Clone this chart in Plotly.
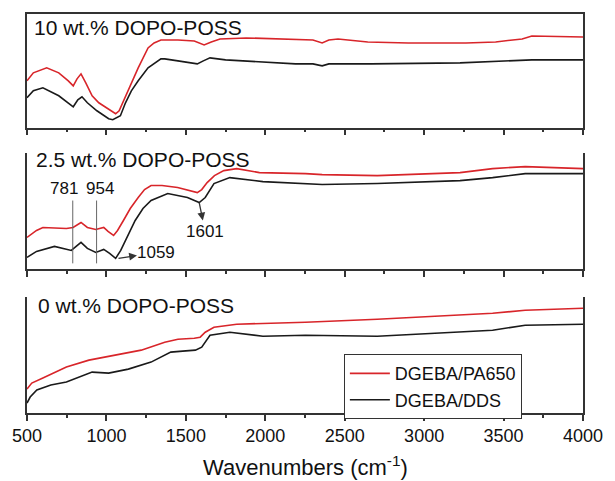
import plotly.graph_objects as go

# ---- data (transmittance, arbitrary units) ----
# Panel 1: 10 wt.% DOPO-POSS
p1_red_x = [500, 540, 624, 700, 760, 791, 815, 840, 870, 910, 952, 1000, 1040, 1058, 1080, 1107, 1150, 1200, 1262, 1300, 1343, 1450, 1553, 1615, 1660, 1715, 1880, 2190, 2300, 2358, 2400, 2458, 2645, 2900, 3263, 3450, 3617, 3678, 4000]
p1_red_y = [47, 55, 60, 55, 47, 42, 49, 54, 45, 32, 25, 20, 15, 14, 17, 27, 42, 60, 80, 85, 88, 88, 87, 83, 86, 89, 90, 89, 88, 85, 88, 89, 86, 85, 85, 86, 89, 92, 91]
p1_blk_x = [500, 540, 600, 700, 791, 820, 846, 880, 940, 1014, 1040, 1088, 1120, 1157, 1200, 1262, 1343, 1367, 1450, 1572, 1610, 1652, 1750, 1880, 2190, 2300, 2358, 2400, 2667, 3226, 3678, 4000]
p1_blk_y = [30, 37, 40, 32, 21, 28, 31, 25, 17, 9, 8, 12, 25, 37, 47, 60, 69, 69, 67, 64, 67, 70, 68, 67, 64, 64, 62, 64, 64, 65, 68, 68]

# Panel 2: 2.5 wt.% DOPO-POSS
p2_red_x = [500, 560, 600, 748, 790, 840, 880, 933, 983, 1010, 1045, 1070, 1107, 1150, 1200, 1240, 1281, 1350, 1448, 1520, 1572, 1600, 1634, 1680, 1739, 1820, 1963, 2253, 2358, 2705, 3226, 3431, 3636, 4000]
p2_red_y = [32, 39, 42, 41, 42, 47, 42, 40, 42, 38, 34, 39, 49, 61, 72, 80, 84, 84, 82, 79, 77, 80, 87, 94, 99, 101, 97, 96, 95, 94, 97, 101, 103, 101]
p2_blk_x = [500, 560, 673, 779, 840, 880, 933, 983, 1020, 1058, 1090, 1120, 1181, 1230, 1281, 1386, 1510, 1584, 1622, 1677, 1777, 1985, 2253, 2358, 2705, 3226, 3431, 3636, 4000]
p2_blk_y = [12, 18, 23, 19, 27, 21, 17, 20, 16, 11, 19, 29, 49, 61, 69, 76, 72, 67, 72, 86, 92, 88, 86, 85, 86, 89, 92, 96, 96]

# Panel 3: 0 wt.% DOPO-POSS
p3_red_x = [500, 530, 600, 748, 890, 1058, 1219, 1367, 1450, 1553, 1590, 1622, 1677, 1820, 2049, 2253, 2705, 3431, 3636, 4000]
p3_red_y = [24, 30, 35, 46, 53, 58, 63, 71, 74, 75, 76, 81, 86, 89, 90, 91, 94, 100, 103, 105]
p3_blk_x = [500, 520, 562, 650, 748, 910, 1014, 1138, 1281, 1405, 1480, 1560, 1600, 1652, 1777, 1985, 2253, 2705, 3431, 3636, 4000]
p3_blk_y = [10, 16, 23, 28, 31, 41, 40, 44, 51, 61, 62, 63, 66, 78, 81, 77, 78, 77, 83, 88, 89]

panel_titles = ["10 wt.% DOPO-POSS", "2.5 wt.% DOPO-POSS", "0 wt.% DOPO-POSS"]
series_names = ["DGEBA/PA650", "DGEBA/DDS"]
x_ticks = [500, 1000, 1500, 2000, 2500, 3000, 3500, 4000]
peak_lines = [788, 938]
peak_labels = ["781", "954"]

RED = "#d8252a"
BLK = "#1a1a1a"
AX = "#333333"
FONT = "Liberation Sans, Arial, sans-serif"

fig = go.Figure()
panels = [(p1_red_x, p1_red_y, p1_blk_x, p1_blk_y),
          (p2_red_x, p2_red_y, p2_blk_x, p2_blk_y),
          (p3_red_x, p3_red_y, p3_blk_x, p3_blk_y)]
for i, (rx, ry, bx, by) in enumerate(panels):
    xa = "x" if i == 0 else f"x{i+1}"
    ya = "y" if i == 0 else f"y{i+1}"
    fig.add_trace(go.Scatter(x=rx, y=ry, mode="lines", line=dict(color=RED, width=1.6),
                             name=series_names[0], showlegend=(i == 2), xaxis=xa, yaxis=ya))
    fig.add_trace(go.Scatter(x=bx, y=by, mode="lines", line=dict(color=BLK, width=1.6),
                             name=series_names[1], showlegend=(i == 2), xaxis=xa, yaxis=ya))

domains = [[0.715, 1.0], [0.36, 0.6525], [0.0, 0.29]]
yranges = [[0, 114], [0, 117], [0, 116]]
for i in range(3):
    sfx = "" if i == 0 else str(i + 1)
    fig.update_layout(**{
        f"xaxis{sfx}": dict(range=[500, 4000], anchor=f"y{sfx}", domain=[0, 1],
                            showline=True, linecolor=AX, linewidth=1.5, mirror=(i == 0),
                            ticks="outside", ticklen=6, tickwidth=1.5, tickcolor=AX,
                            tickvals=x_ticks, showticklabels=(i == 2), showgrid=False, zeroline=False,
                            minor=dict(ticks="outside", ticklen=3, tickwidth=1.5, tickcolor=AX,
                                       tick0=750, dtick=500, showgrid=False),
                            tickfont=dict(size=18, color="#111", family=FONT),
                            matches=None if i == 0 else "x"),
        f"yaxis{sfx}": dict(range=yranges[i], anchor=f"x{sfx}", domain=domains[i],
                            showline=True, linecolor=AX, linewidth=1.5, mirror=True,
                            showticklabels=False, ticks="", showgrid=False, zeroline=False),
    })

# panel titles
title_pos = [(32, 26.5), (34, 159), (36, 305.5)]
for t, (px, py) in zip(panel_titles, title_pos):
    fig.add_annotation(text=t, xref="paper", yref="paper", x=(px - 27) / 565, y=(413 - py) / 400,
                       xanchor="left", yanchor="middle", showarrow=False,
                       font=dict(size=21, color="#111", family=FONT))

# peak marker lines in panel 2
for xv, lab, lx in zip(peak_lines, peak_labels, [735, 958]):
    fig.add_shape(type="line", xref="x2", yref="y2", x0=xv, x1=xv, y0=6, y1=69,
                  line=dict(color="#666", width=1))
    fig.add_annotation(text=lab, xref="x2", yref="y2", x=lx, y=81, showarrow=False,
                       font=dict(size=17, color="#111", family=FONT))

# 1059: arrow from the curve minimum, head pointing at the label
fig.add_annotation(text="1059", xref="x2", yref="y2", x=1076, y=11, ax=1315, ay=17,
                   axref="x2", ayref="y2", showarrow=True, arrowside="start",
                   arrowhead=2, startarrowhead=2, startarrowsize=1.2,
                   arrowwidth=1.3, arrowcolor="#333", borderpad=0,
                   font=dict(size=17, color="#111", family=FONT))
# 1601: arrow from the shoulder, head pointing at the label
fig.add_annotation(text="1601", xref="x2", yref="y2", x=1584, y=67, ax=1621, ay=38,
                   axref="x2", ayref="y2", showarrow=True, arrowside="start",
                   arrowhead=2, startarrowhead=2, startarrowsize=1.2,
                   arrowwidth=1.3, arrowcolor="#333", borderpad=1,
                   font=dict(size=17, color="#111", family=FONT))

# x-axis title
fig.add_annotation(text="Wavenumbers (cm<sup>-1</sup>)", xref="paper", yref="paper",
                   x=(310 - 27) / 565, y=(413 - 466) / 400, xanchor="center", yanchor="middle",
                   showarrow=False, font=dict(size=22, color="#111", family=FONT))

fig.update_layout(
    width=615, height=481,
    margin=dict(l=27, r=23, t=13, b=68),
    paper_bgcolor="white", plot_bgcolor="white",
    font=dict(family=FONT, color="#111"),
    legend=dict(x=(349 - 27) / 565, y=(413 - 354) / 400, xanchor="left", yanchor="top",
                bordercolor="#333", borderwidth=1, bgcolor="white",
                font=dict(size=18, color="#111", family=FONT), tracegroupgap=0,
                itemwidth=40),
)

fig.write_html("out.html")
